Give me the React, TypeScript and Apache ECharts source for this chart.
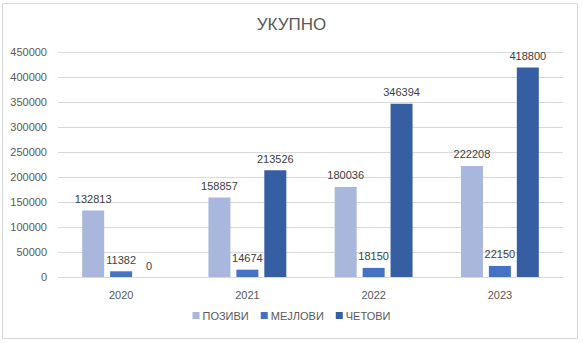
import React, { useEffect, useRef } from "react";
import * as echarts from "echarts";

const categories = ["2020", "2021", "2022", "2023"];
const seriesNames = ["ПОЗИВИ", "МЕЈЛОВИ", "ЧЕТОВИ"];
const pozivi = [132813, 158857, 180036, 222208];
const mejlovi = [11382, 14674, 18150, 22150];
const chetovi = [0, 213526, 346394, 418800];
const colors = ["#a9b7dc", "#4472c4", "#365ea3"];

const FONT = "Liberation Sans";

export default function App() {
  const ref = useRef<HTMLDivElement>(null);
  useEffect(() => {
    document.body.style.margin = "0";
    const chart = echarts.init(ref.current!, null, { renderer: "svg" });
    const data = [pozivi, mejlovi, chetovi];
    chart.setOption({
      animation: false,
      backgroundColor: "#ffffff",
      textStyle: { fontFamily: FONT },
      title: {
        text: "УКУПНО",
        left: "center",
        top: 11,
        textStyle: { fontSize: 17, fontWeight: "normal", color: "#595959", fontFamily: FONT },
      },
      graphic: [
        {
          type: "rect",
          shape: { x: 2.5, y: 3.5, width: 575, height: 335 },
          style: { fill: "none", stroke: "#d9d9d9", lineWidth: 1 },
          silent: true,
        },
      ],
      legend: {
        bottom: 17,
        left: "center",
        itemWidth: 7,
        itemHeight: 7,
        itemGap: 12,
        icon: "rect",
        textStyle: { fontSize: 11, color: "#595959", fontFamily: FONT, padding: [0, 0, 0, -2] },
        data: seriesNames,
      },
      grid: { left: 58, right: 20, top: 52, bottom: 66, containLabel: false },
      xAxis: {
        type: "category",
        data: categories,
        axisTick: { show: false },
        axisLine: { lineStyle: { color: "#d9d9d9" } },
        axisLabel: { color: "#595959", fontSize: 11, margin: 12, fontFamily: FONT },
      },
      yAxis: {
        type: "value",
        min: 0,
        max: 450000,
        interval: 50000,
        axisLine: { show: false },
        axisTick: { show: false },
        splitLine: { lineStyle: { color: "#d9d9d9" } },
        axisLabel: {
          color: "#595959",
          fontSize: 11,
          margin: 11,
          fontFamily: FONT,
          formatter: (v: number) => String(v),
        },
      },
      series: seriesNames.map((name, i) => ({
        name,
        type: "bar",
        data: data[i],
        barWidth: 22,
        barGap: "27%",
        itemStyle: { color: colors[i] },
        label: {
          show: true,
          position: "top",
          distance: 6,
          color: "#404040",
          fontSize: 11,
          fontFamily: FONT,
        },
      })),
    });
    return () => chart.dispose();
  }, []);
  return <div ref={ref} style={{ width: 583, height: 343 }} />;
}
